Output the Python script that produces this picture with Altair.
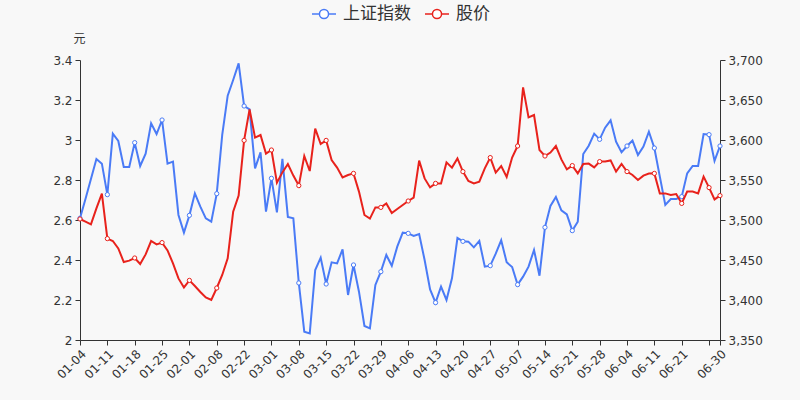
import altair as alt
import pandas as pd

dates = [
    "01-04", "01-05", "01-06", "01-07", "01-08", "01-11", "01-12", "01-13", "01-14", "01-15",
    "01-18", "01-19", "01-20", "01-21", "01-22", "01-25", "01-26", "01-27", "01-28", "01-29",
    "02-01", "02-02", "02-03", "02-04", "02-05", "02-08", "02-09", "02-10", "02-18", "02-19",
    "02-22", "02-23", "02-24", "02-25", "02-26",
    "03-01", "03-02", "03-03", "03-04", "03-05", "03-08", "03-09", "03-10", "03-11", "03-12",
    "03-15", "03-16", "03-17", "03-18", "03-19", "03-22", "03-23", "03-24", "03-25", "03-26",
    "03-29", "03-30", "03-31",
    "04-01", "04-02", "04-06", "04-07", "04-08", "04-09", "04-12", "04-13", "04-14", "04-15",
    "04-16", "04-19", "04-20", "04-21", "04-22", "04-23", "04-26", "04-27", "04-28", "04-29",
    "04-30",
    "05-06", "05-07", "05-10", "05-11", "05-12", "05-13", "05-14", "05-17", "05-18", "05-19",
    "05-20", "05-21", "05-24", "05-25", "05-26", "05-27", "05-28", "05-31",
    "06-01", "06-02", "06-03", "06-04", "06-07", "06-08", "06-09", "06-10", "06-11", "06-15",
    "06-16", "06-17", "06-18", "06-21", "06-22", "06-23", "06-24", "06-25", "06-28", "06-29",
    "06-30",
]

price = [
    2.605, 2.592, 2.578, 2.658, 2.732, 2.507, 2.495, 2.458, 2.390, 2.397,
    2.410, 2.380, 2.428, 2.495, 2.478, 2.487, 2.448, 2.383, 2.308, 2.263,
    2.298, 2.270, 2.240, 2.213, 2.200, 2.260, 2.325, 2.408, 2.642, 2.722,
    2.998, 3.153, 3.012, 3.025, 2.932, 2.950, 2.787, 2.838, 2.880, 2.822,
    2.772, 2.920, 2.845, 3.057, 2.980, 2.998, 2.900, 2.862, 2.813, 2.825,
    2.833, 2.742, 2.625, 2.607, 2.663, 2.663, 2.683, 2.635, 2.655, 2.675,
    2.695, 2.712, 2.897, 2.808, 2.763, 2.783, 2.783, 2.888, 2.862, 2.908,
    2.842, 2.795, 2.783, 2.792, 2.858, 2.912, 2.837, 2.870, 2.815, 2.912,
    2.970, 3.263, 3.113, 3.125, 2.950, 2.920, 2.937, 2.970, 2.903, 2.853,
    2.872, 2.833, 2.880, 2.882, 2.863, 2.892, 2.893, 2.898, 2.842, 2.880,
    2.842, 2.825, 2.800, 2.822, 2.832, 2.833, 2.733, 2.733, 2.725, 2.730,
    2.683, 2.742, 2.742, 2.733, 2.817, 2.762, 2.703, 2.722,
]

sh_index = [
    3502.1, 3526.2, 3551.3, 3576.3, 3570.4, 3531.7, 3607.9, 3598.8, 3566.3, 3566.3,
    3596.7, 3567.5, 3582.9, 3620.8, 3607.5, 3625.0, 3570.4, 3572.9, 3506.3, 3484.2,
    3505.8, 3533.3, 3516.7, 3502.1, 3497.9, 3532.9, 3606.3, 3655.4, 3675.0, 3695.8,
    3642.5, 3638.3, 3564.6, 3584.6, 3510.4, 3552.1, 3509.6, 3576.3, 3503.8, 3502.1,
    3421.3, 3360.4, 3358.3, 3437.5, 3452.9, 3420.0, 3447.1, 3445.8, 3463.3, 3406.3,
    3443.8, 3410.4, 3367.5, 3364.6, 3418.8, 3435.4, 3456.3, 3442.9, 3466.7, 3484.2,
    3483.3, 3480.0, 3482.5, 3450.0, 3413.3, 3396.7, 3416.7, 3400.0, 3427.1, 3477.5,
    3473.3, 3472.9, 3465.8, 3473.8, 3441.7, 3442.9, 3457.9, 3474.6, 3447.1, 3441.3,
    3419.2, 3429.2, 3441.7, 3462.5, 3430.4, 3490.8, 3517.5, 3528.8, 3512.1, 3507.1,
    3486.7, 3497.9, 3582.5, 3592.9, 3607.9, 3600.8, 3615.4, 3624.6, 3597.9, 3584.6,
    3592.5, 3599.2, 3581.3, 3591.7, 3610.4, 3590.0, 3554.2, 3518.8, 3526.3, 3526.3,
    3529.2, 3558.3, 3567.5, 3567.5, 3607.5, 3606.7, 3573.8, 3592.5,
]

series_names = ["上证指数", "股价"]
left_ticks = [2, 2.2, 2.4, 2.6, 2.8, 3, 3.2, 3.4]
right_ticks = [3350, 3400, 3450, 3500, 3550, 3600, 3650, 3700]

BLUE = "#4a7bf6"
RED = "#e8221c"
TXT = "#333333"
BG = "#f8f8f8"

n = len(dates)
df_price = pd.DataFrame({"date": dates, "idx": list(range(n)), "price": price, "series": "股价"})
df_index = pd.DataFrame({"date": dates, "idx": list(range(n)), "shindex": sh_index, "series": "上证指数"})

tick_dates = dates[::5] + [dates[-1]]
hidden_label = dates[-3]

x_enc = alt.X(
    "date:O",
    sort=None,
    scale=alt.Scale(type="point", padding=0, domain=dates),
    axis=alt.Axis(
        values=tick_dates,
        labelExpr=f"datum.value == '{hidden_label}' ? '' : datum.label",
        labelAngle=-45,
        title=None,
        grid=False,
        tickSize=5,
        domainColor=TXT,
        tickColor=TXT,
        labelColor=TXT,
        labelFontSize=12,
        labelFont="DejaVu Sans",
        labelPadding=3,
    ),
)

legend_path = "M-1,0L-0.38,0M0.38,0L1,0M-0.38,0A0.38,0.38,0,1,1,0.38,0A0.38,0.38,0,1,1,-0.38,0"
color_enc = alt.Color(
    "series:N",
    scale=alt.Scale(domain=series_names, range=[BLUE, RED]),
    legend=alt.Legend(
        title=None,
        orient="none",
        legendX=231,
        legendY=-59,
        direction="horizontal",
        symbolType=legend_path,
        symbolSize=576,
        symbolStrokeWidth=1.5,
        symbolFillColor=BG,
        labelFontSize=17,
        labelFont="Noto Sans CJK SC",
        labelColor=TXT,
        labelOffset=6,
        columnPadding=11,
    ),
)

y_left = alt.Y(
    "price:Q",
    scale=alt.Scale(domain=[2, 3.4], nice=False, zero=False),
    axis=alt.Axis(
        orient="left",
        values=left_ticks,
        format="~g",
        title="元",
        titleAngle=0,
        titleX=-1,
        titleY=-22,
        titleAlign="center",
        titleBaseline="middle",
        titleFontSize=12,
        titleFontWeight="normal",
        titleColor=TXT,
        titleFont="Noto Sans CJK SC",
        grid=False,
        tickSize=5,
        domainColor=TXT,
        tickColor=TXT,
        labelColor=TXT,
        labelFontSize=12,
        labelFont="DejaVu Sans",
        labelPadding=3,
    ),
)

y_right = alt.Y(
    "shindex:Q",
    scale=alt.Scale(domain=[3350, 3700], nice=False, zero=False),
    axis=alt.Axis(
        orient="right",
        values=right_ticks,
        format=",d",
        title=None,
        grid=False,
        tickSize=5,
        domainColor=TXT,
        tickColor=TXT,
        labelColor=TXT,
        labelFontSize=12,
        labelFont="DejaVu Sans",
        labelPadding=3,
    ),
)

marker_filter = f"datum.idx % 5 == 0 || datum.idx == {n - 1}"

idx_line = alt.Chart(df_index).mark_line(strokeWidth=2).encode(x=x_enc, y=y_right, color=color_enc)
idx_pts = (
    alt.Chart(df_index)
    .transform_filter(marker_filter)
    .mark_point(shape="circle", filled=False, fill="#ffffff", size=18, strokeWidth=1, opacity=1)
    .encode(x=x_enc, y=y_right, color=color_enc)
)
price_line = alt.Chart(df_price).mark_line(strokeWidth=2).encode(x=x_enc, y=y_left, color=color_enc)
price_pts = (
    alt.Chart(df_price)
    .transform_filter(marker_filter)
    .mark_point(shape="circle", filled=False, fill="#ffffff", size=18, strokeWidth=1, opacity=1)
    .encode(x=x_enc, y=y_left, color=color_enc)
)

right_layer = alt.layer(idx_line, idx_pts)
left_layer = alt.layer(price_line, price_pts)

chart = (
    alt.layer(right_layer, left_layer)
    .resolve_scale(y="independent")
    .properties(
        width=640,
        height=280,
        padding={"left": 80, "top": 60, "right": 80, "bottom": 60},
        autosize=alt.AutoSizeParams(type="none"),
        background=BG,
    )
    .configure_view(stroke=None)
)

chart.save("out.html", embed_options={"renderer": "svg", "actions": False})
